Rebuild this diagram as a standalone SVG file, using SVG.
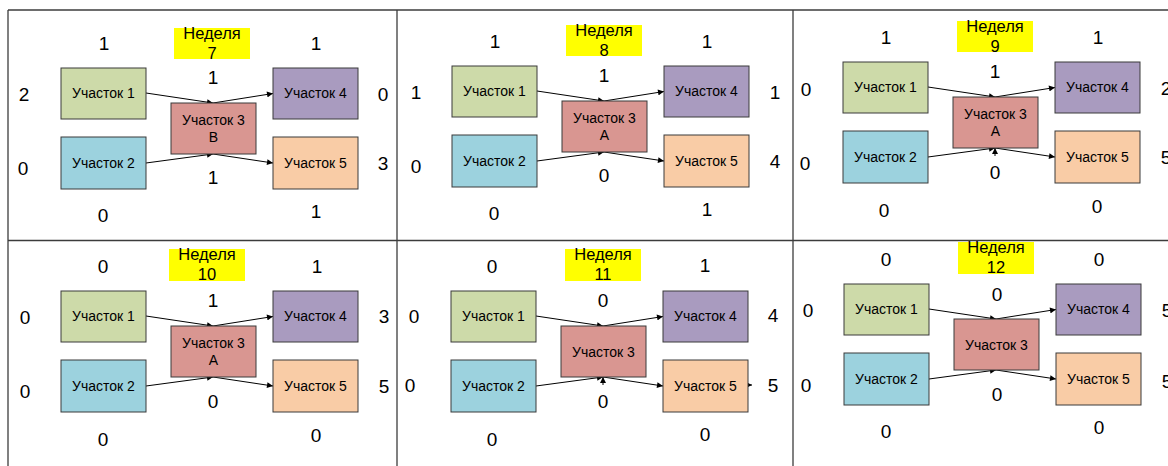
<svg xmlns="http://www.w3.org/2000/svg" width="1168" height="466" viewBox="0 0 1168 466">
<style>
  text { font-family: "Liberation Sans", Arial, sans-serif; fill: #000; text-anchor: middle; }
  .num { font-size: 19px; }
  .lbl { font-size: 14px; }
  .wk { font-size: 16.5px; }
  .box { stroke: #3a3a3a; stroke-width: 1; }
  .u1 { fill: #cddaa9; }
  .u2 { fill: #9cd2de; }
  .u3 { fill: #d99691; }
  .u4 { fill: #a99bbf; }
  .u5 { fill: #f9cca6; }
  .hl { fill: #ffff00; }
  .conn line { stroke: #000; stroke-width: 1; marker-end: url(#arr); }
  .grid line { stroke: #3c3c3c; stroke-width: 1.3; }
</style>
<defs>
  <marker id="arr" viewBox="0 0 10 10" refX="10" refY="5" markerWidth="8" markerHeight="6" markerUnits="userSpaceOnUse" orient="auto">
    <path d="M0,0 L10,5 L0,10 z" fill="#000"/>
  </marker>
</defs>
<rect width="1168" height="466" fill="#fff"/>
<g class="grid" id="grid">
  <line x1="8" y1="10" x2="1168" y2="10"/>
  <line x1="8" y1="240.5" x2="1168" y2="240.5"/>
  <line x1="8" y1="10" x2="8" y2="466"/>
  <line x1="397" y1="10" x2="397" y2="466"/>
  <line x1="793" y1="10" x2="793" y2="466"/>
</g>

<!-- Week 7 -->
<g id="week7" transform="translate(0,0)">
  <g id="w7-title"><rect class="hl" x="174" y="28" width="76" height="31"/><text class="wk" x="212" y="39">Неделя</text><text class="wk" x="212" y="58.5">7</text></g>
  <g class="conn" id="w7-connectors">
    <line x1="146" y1="93" x2="213" y2="103"/>
    <line x1="213" y1="103" x2="273" y2="93.5"/>
    <line x1="146" y1="163" x2="213" y2="154"/>
    <line x1="213" y1="154" x2="273" y2="163"/>
  </g>
  <g id="w7-u1"><rect class="box u1" x="61" y="68" width="85" height="51"/><text class="lbl" x="103.5" y="98">Участок 1</text></g>
  <g id="w7-u2"><rect class="box u2" x="61" y="137" width="85" height="52"/><text class="lbl" x="103.5" y="168">Участок 2</text></g>
  <g id="w7-u3"><rect class="box u3" x="171" y="103" width="85" height="51"/><text class="lbl" x="213.5" y="125">Участок 3</text><text class="lbl" x="213.5" y="142">В</text></g>
  <g id="w7-u4"><rect class="box u4" x="273" y="68" width="85" height="51"/><text class="lbl" x="315.5" y="98">Участок 4</text></g>
  <g id="w7-u5"><rect class="box u5" x="273" y="137" width="85" height="52"/><text class="lbl" x="315.5" y="168">Участок 5</text></g>
  <g id="w7-nums">
    <text class="num" x="104" y="50">1</text><text class="num" x="316" y="50">1</text>
    <text class="num" x="213" y="84">1</text><text class="num" x="213" y="184">1</text>
    <text class="num" x="24" y="101">2</text><text class="num" x="23" y="175">0</text>
    <text class="num" x="383" y="101">0</text><text class="num" x="383" y="170">3</text>
    <text class="num" x="103" y="222">0</text><text class="num" x="316" y="218">1</text>
  </g>
</g>

<!-- Week 8 -->
<g id="week8" transform="translate(391,-2)">
  <g id="w8-title"><rect class="hl" x="175" y="27" width="76" height="31"/><text class="wk" x="213" y="38">Неделя</text><text class="wk" x="213" y="57.5">8</text></g>
  <g class="conn" id="w8-connectors">
    <line x1="146" y1="93" x2="213" y2="103"/>
    <line x1="213" y1="103" x2="273" y2="93.5"/>
    <line x1="146" y1="163" x2="213" y2="154"/>
    <line x1="213" y1="154" x2="273" y2="163"/>
  </g>
  <g id="w8-u1"><rect class="box u1" x="61" y="68" width="85" height="51"/><text class="lbl" x="103.5" y="98">Участок 1</text></g>
  <g id="w8-u2"><rect class="box u2" x="61" y="137" width="85" height="52"/><text class="lbl" x="103.5" y="168">Участок 2</text></g>
  <g id="w8-u3"><rect class="box u3" x="171" y="103" width="85" height="51"/><text class="lbl" x="213.5" y="125">Участок 3</text><text class="lbl" x="213.5" y="142">А</text></g>
  <g id="w8-u4"><rect class="box u4" x="273" y="68" width="85" height="51"/><text class="lbl" x="315.5" y="98">Участок 4</text></g>
  <g id="w8-u5"><rect class="box u5" x="273" y="137" width="85" height="52"/><text class="lbl" x="315.5" y="168">Участок 5</text></g>
  <g id="w8-nums">
    <text class="num" x="104" y="50">1</text><text class="num" x="316" y="50">1</text>
    <text class="num" x="213" y="84">1</text><text class="num" x="213" y="184">0</text>
    <text class="num" x="25" y="101">1</text><text class="num" x="25" y="175">0</text>
    <text class="num" x="384" y="101">1</text><text class="num" x="384" y="170">4</text>
    <text class="num" x="103" y="222">0</text><text class="num" x="316" y="218">1</text>
  </g>
</g>

<!-- Week 9 -->
<g id="week9" transform="translate(782,-6)">
  <g id="w9-title"><rect class="hl" x="175" y="27" width="76" height="31"/><text class="wk" x="213" y="38">Неделя</text><text class="wk" x="213" y="57.5">9</text></g>
  <g class="conn" id="w9-connectors">
    <line x1="146" y1="93" x2="213" y2="103"/>
    <line x1="213" y1="103" x2="273" y2="93.5"/>
    <line x1="146" y1="163" x2="213" y2="154"/>
    <line x1="213" y1="154" x2="273" y2="163"/>
    <line x1="213" y1="162" x2="213" y2="154"/>
  </g>
  <g id="w9-u1"><rect class="box u1" x="61" y="68" width="85" height="51"/><text class="lbl" x="103.5" y="98">Участок 1</text></g>
  <g id="w9-u2"><rect class="box u2" x="61" y="137" width="85" height="52"/><text class="lbl" x="103.5" y="168">Участок 2</text></g>
  <g id="w9-u3"><rect class="box u3" x="171" y="103" width="85" height="51"/><text class="lbl" x="213.5" y="125">Участок 3</text><text class="lbl" x="213.5" y="142">А</text></g>
  <g id="w9-u4"><rect class="box u4" x="273" y="68" width="85" height="51"/><text class="lbl" x="315.5" y="98">Участок 4</text></g>
  <g id="w9-u5"><rect class="box u5" x="273" y="137" width="85" height="52"/><text class="lbl" x="315.5" y="168">Участок 5</text></g>
  <g id="w9-nums">
    <text class="num" x="104" y="50">1</text><text class="num" x="316" y="50">1</text>
    <text class="num" x="213" y="84">1</text><text class="num" x="213" y="185">0</text>
    <text class="num" x="24" y="102">0</text><text class="num" x="23" y="176">0</text>
    <text class="num" x="384" y="101">2</text><text class="num" x="384" y="170">5</text>
    <text class="num" x="102" y="223">0</text><text class="num" x="315" y="219">0</text>
  </g>
</g>

<!-- Week 10 -->
<g id="week10" transform="translate(0,223)">
  <g id="w10-title"><rect class="hl" x="169" y="26" width="76" height="32"/><text class="wk" x="207" y="37">Неделя</text><text class="wk" x="207" y="56.5">10</text></g>
  <g class="conn" id="w10-connectors">
    <line x1="146" y1="93" x2="213" y2="103"/>
    <line x1="213" y1="103" x2="273" y2="93.5"/>
    <line x1="146" y1="163" x2="213" y2="154"/>
    <line x1="213" y1="154" x2="273" y2="163"/>
  </g>
  <g id="w10-u1"><rect class="box u1" x="61" y="68" width="85" height="51"/><text class="lbl" x="103.5" y="98">Участок 1</text></g>
  <g id="w10-u2"><rect class="box u2" x="61" y="137" width="85" height="52"/><text class="lbl" x="103.5" y="168">Участок 2</text></g>
  <g id="w10-u3"><rect class="box u3" x="171" y="103" width="85" height="51"/><text class="lbl" x="213.5" y="125">Участок 3</text><text class="lbl" x="213.5" y="142">А</text></g>
  <g id="w10-u4"><rect class="box u4" x="273" y="68" width="85" height="51"/><text class="lbl" x="315.5" y="98">Участок 4</text></g>
  <g id="w10-u5"><rect class="box u5" x="273" y="137" width="85" height="52"/><text class="lbl" x="315.5" y="168">Участок 5</text></g>
  <g id="w10-nums">
    <text class="num" x="103" y="50">0</text><text class="num" x="317" y="50">1</text>
    <text class="num" x="213" y="84">1</text><text class="num" x="213" y="185">0</text>
    <text class="num" x="25" y="101">0</text><text class="num" x="25" y="175">0</text>
    <text class="num" x="384" y="100">3</text><text class="num" x="384" y="170">5</text>
    <text class="num" x="103" y="223">0</text><text class="num" x="316" y="219">0</text>
  </g>
</g>

<!-- Week 11 -->
<g id="week11" transform="translate(390,223)">
  <g id="w11-title"><rect class="hl" x="175" y="26" width="76" height="32"/><text class="wk" x="213" y="37">Неделя</text><text class="wk" x="213" y="56.5">11</text></g>
  <g class="conn" id="w11-connectors">
    <line x1="146" y1="93" x2="213" y2="103"/>
    <line x1="213" y1="103" x2="273" y2="93.5"/>
    <line x1="146" y1="163" x2="213" y2="154"/>
    <line x1="213" y1="154" x2="273" y2="163"/>
    <line x1="213" y1="162" x2="213" y2="154"/>
    <line x1="354" y1="162" x2="362" y2="162"/>
  </g>
  <g id="w11-u1"><rect class="box u1" x="61" y="68" width="85" height="51"/><text class="lbl" x="103.5" y="98">Участок 1</text></g>
  <g id="w11-u2"><rect class="box u2" x="61" y="137" width="85" height="52"/><text class="lbl" x="103.5" y="168">Участок 2</text></g>
  <g id="w11-u3"><rect class="box u3" x="171" y="103" width="85" height="51"/><text class="lbl" x="213.5" y="134">Участок 3</text></g>
  <g id="w11-u4"><rect class="box u4" x="273" y="68" width="85" height="51"/><text class="lbl" x="315.5" y="98">Участок 4</text></g>
  <g id="w11-u5"><rect class="box u5" x="273" y="137" width="85" height="52"/><text class="lbl" x="315.5" y="168">Участок 5</text></g>
  <g id="w11-nums">
    <text class="num" x="102" y="50">0</text><text class="num" x="315" y="49">1</text>
    <text class="num" x="213" y="84">0</text><text class="num" x="213" y="185">0</text>
    <text class="num" x="24" y="100">0</text><text class="num" x="20" y="169">0</text>
    <text class="num" x="383" y="99">4</text><text class="num" x="383" y="169">5</text>
    <text class="num" x="102" y="223">0</text><text class="num" x="315" y="218">0</text>
  </g>
</g>

<!-- Week 12 -->
<g id="week12" transform="translate(783,216)">
  <g id="w12-title"><rect class="hl" x="175" y="26" width="76" height="32"/><text class="wk" x="213" y="37">Неделя</text><text class="wk" x="213" y="56.5">12</text></g>
  <g class="conn" id="w12-connectors">
    <line x1="146" y1="93" x2="213" y2="103"/>
    <line x1="213" y1="103" x2="273" y2="93.5"/>
    <line x1="146" y1="163" x2="213" y2="154"/>
    <line x1="213" y1="154" x2="273" y2="163"/>
  </g>
  <g id="w12-u1"><rect class="box u1" x="61" y="68" width="85" height="51"/><text class="lbl" x="103.5" y="98">Участок 1</text></g>
  <g id="w12-u2"><rect class="box u2" x="61" y="137" width="85" height="52"/><text class="lbl" x="103.5" y="168">Участок 2</text></g>
  <g id="w12-u3"><rect class="box u3" x="171" y="103" width="85" height="51"/><text class="lbl" x="213.5" y="134">Участок 3</text></g>
  <g id="w12-u4"><rect class="box u4" x="273" y="68" width="85" height="51"/><text class="lbl" x="315.5" y="98">Участок 4</text></g>
  <g id="w12-u5"><rect class="box u5" x="273" y="137" width="85" height="52"/><text class="lbl" x="315.5" y="168">Участок 5</text></g>
  <g id="w12-nums">
    <text class="num" x="103" y="50">0</text><text class="num" x="316" y="50">0</text>
    <text class="num" x="214" y="85">0</text><text class="num" x="214" y="185">0</text>
    <text class="num" x="25" y="101">0</text><text class="num" x="23" y="176">0</text>
    <text class="num" x="384" y="101">5</text><text class="num" x="384" y="172">5</text>
    <text class="num" x="103" y="222">0</text><text class="num" x="316" y="218">0</text>
  </g>
</g>
</svg>
